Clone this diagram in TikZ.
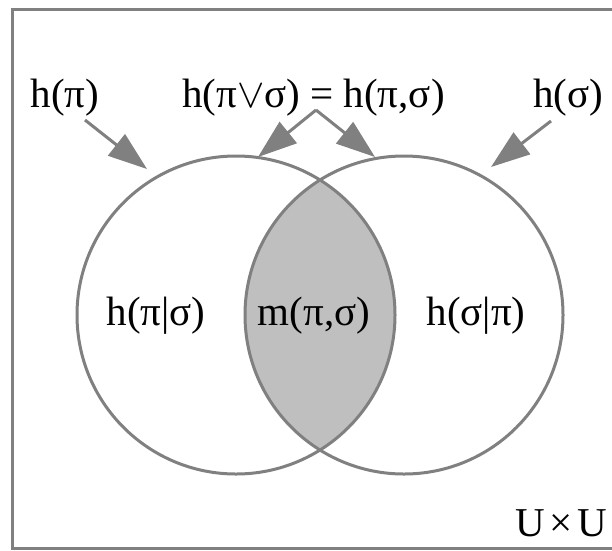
\RequirePackage{fix-cm}
\documentclass[tikz,border=0pt]{standalone}
\usepackage{fontspec}
\setmainfont{Liberation Serif}
\usetikzlibrary{arrows.meta}
\definecolor{linegray}{RGB}{128,128,128}
\definecolor{lensgray}{RGB}{191,191,191}
\begin{document}
\begin{tikzpicture}[x=1pt,y=-1pt,
  lbl/.style={anchor=base,inner sep=0pt,font=\fontsize{41}{48}\selectfont,text=black},
  ring/.style={draw=linegray,line width=3pt},
  pointer/.style={draw=linegray,line width=3pt,-{Triangle[length=39pt,width=27pt]},color=linegray}]
\useasboundingbox (0,0) rectangle (612,550);
\fill[white] (0,0) rectangle (612,550);
% universe frame
\draw[linegray,line width=3pt] (12,9) rectangle (650,548);
% lens
\begin{scope}
  \clip (236,315) circle (159);
  \fill[lensgray] (404,315) circle (159);
\end{scope}
\draw[ring] (236,315) circle (159);
\draw[ring] (404,315) circle (159);
% labels
\node[lbl] (hp) at (65,107) {h(π)};
\node[lbl] (hjoin) at (313.5,107) {h(π$\vee$σ) = h(π,σ)};
\node[lbl] (hs) at (568,107) {h(σ)};
\node[lbl] (hps) at (156,325) {h(π|σ)};
\node[lbl] (mps) at (314,325) {m(π,σ)};
\node[lbl] (hsp) at (476,325) {h(σ|π)};
\node[lbl] (uu) at (561.5,536) {U\kern0.12em×\kern0.12em U};
% arrows
\coordinate (a1s) at (85,120);
\coordinate (a1t) at (147,169);
\coordinate (apex) at (316,110);
\coordinate (a2t) at (258,157);
\coordinate (a3t) at (375,157);
\coordinate (a4s) at (551,121);
\coordinate (a4t) at (491,167);
\draw[pointer] (a1s) -- (a1t);
\draw[pointer] (apex) -- (a2t);
\draw[pointer] (apex) -- (a3t);
\draw[pointer] (a4s) -- (a4t);
\end{tikzpicture}
\end{document}
